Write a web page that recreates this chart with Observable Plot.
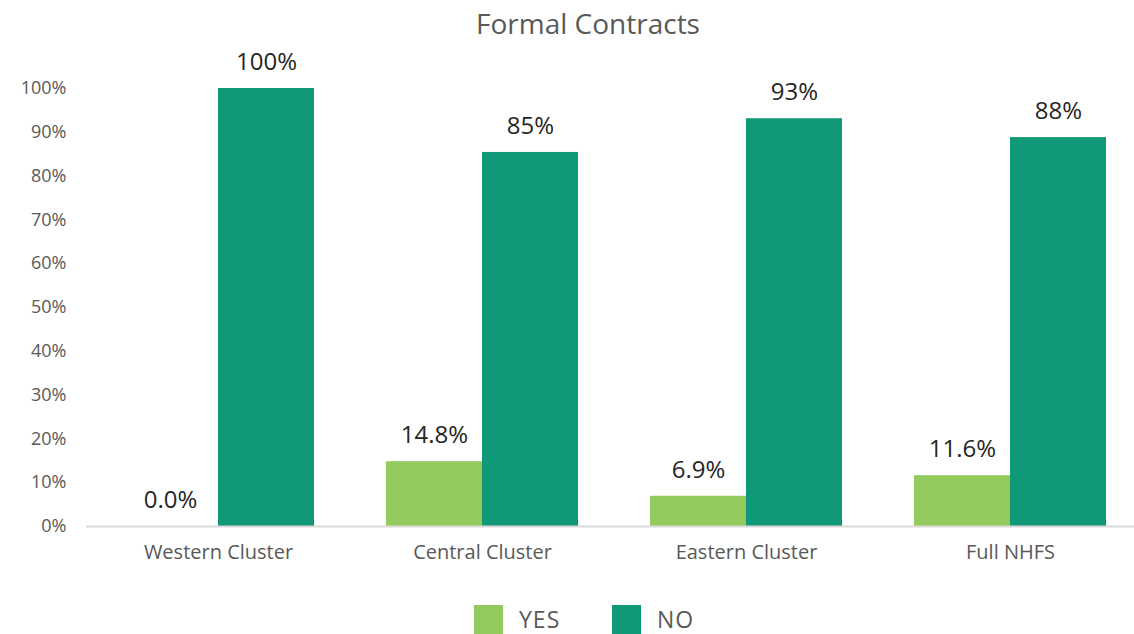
<!DOCTYPE html>
<html>
<head>
<meta charset="utf-8">
<script src="https://cdn.jsdelivr.net/npm/d3@7"></script>
<script src="https://cdn.jsdelivr.net/npm/@observablehq/plot@0.6"></script>
<style>
  body { margin: 0; background: #fff; width: 1134px; height: 634px; overflow: hidden; }
  #title { height: 46px; line-height: 46px; text-align: center; padding-left: 42px; font-family: "Open Sans", sans-serif; font-size: 28px; color: #595959; }
  #legend { position: relative; height: 48px; font-family: "Open Sans", sans-serif; font-size: 23px; color: #595959; letter-spacing: 1px; }
  .item { display: flex; align-items: center; position: absolute; top: 19px; height: 29px; line-height: 29px; }
  .sw { width: 29px; height: 29px; margin-right: 16px; }
</style>
</head>
<body>
<div id="title">Formal Contracts</div>
<div id="chart"></div>
<div id="legend"></div>
<script>
const categories = ["Western Cluster", "Central Cluster", "Eastern Cluster", "Full NHFS"];
const series = ["YES", "NO"];
const yesValues = [0.0, 14.8, 6.9, 11.6];
const noValues = [100, 85.4, 93.1, 88.8];
const yesLabels = ["0.0%", "14.8%", "6.9%", "11.6%"];
const noLabels = ["100%", "85%", "93%", "88%"];
const colors = ["#92ca5e", "#109978"];
const yTicks = [0, 10, 20, 30, 40, 50, 60, 70, 80, 90, 100];

const data = [];
categories.forEach((c, i) => {
  data.push({category: c, series: "YES", value: yesValues[i], label: yesLabels[i]});
  data.push({category: c, series: "NO", value: noValues[i], label: noLabels[i]});
});
const yes = data.filter(d => d.series === "YES");
const no = data.filter(d => d.series === "NO");

const labelStyle = {fontSize: 24, fill: "#262626", fontFamily: "Open Sans", letterSpacing: "2px"};

const chart = Plot.plot({
  width: 1134,
  height: 540,
  marginLeft: 86,
  marginRight: -8,
  marginTop: 42,
  marginBottom: 60,
  style: {background: "transparent", overflow: "visible"},
  x: {domain: categories, padding: 0, label: null},
  y: {domain: [0, 100], label: null},
  color: {domain: series, range: colors},
  marks: [
    Plot.axisY({ticks: yTicks, tickSize: 0, tickPadding: 20, tickFormat: d => d + "%", fontSize: 18, fill: "#595959", fontFamily: "Open Sans", letterSpacing: "2px"}),
    Plot.axisX({tickSize: 0, tickPadding: 18, fontSize: 20, fill: "#595959", fontFamily: "Open Sans", letterSpacing: "0.5px"}),
    Plot.barY(yes, {x: "category", y: "value", fill: d => d.series, insetLeft: 36, insetRight: 132}),
    Plot.barY(no, {x: "category", y: "value", fill: d => d.series, insetLeft: 132, insetRight: 36}),
    Plot.ruleY([0], {stroke: "#d9d9d9", strokeWidth: 2}),
    Plot.text(yes, {x: "category", y: "value", text: "label", dx: -48, dy: -26, ...labelStyle}),
    Plot.text(no, {x: "category", y: "value", text: "label", dx: 48, dy: -26, ...labelStyle})
  ]
});
document.getElementById("chart").appendChild(chart);

const legend = document.getElementById("legend");
const legendX = [474, 612];
series.forEach((s, i) => {
  const item = document.createElement("div");
  item.className = "item";
  item.style.left = legendX[i] + "px";
  const sw = document.createElement("div");
  sw.className = "sw";
  sw.style.background = colors[i];
  const t = document.createElement("span");
  t.textContent = s;
  item.appendChild(sw);
  item.appendChild(t);
  legend.appendChild(item);
});
</script>
</body>
</html>
